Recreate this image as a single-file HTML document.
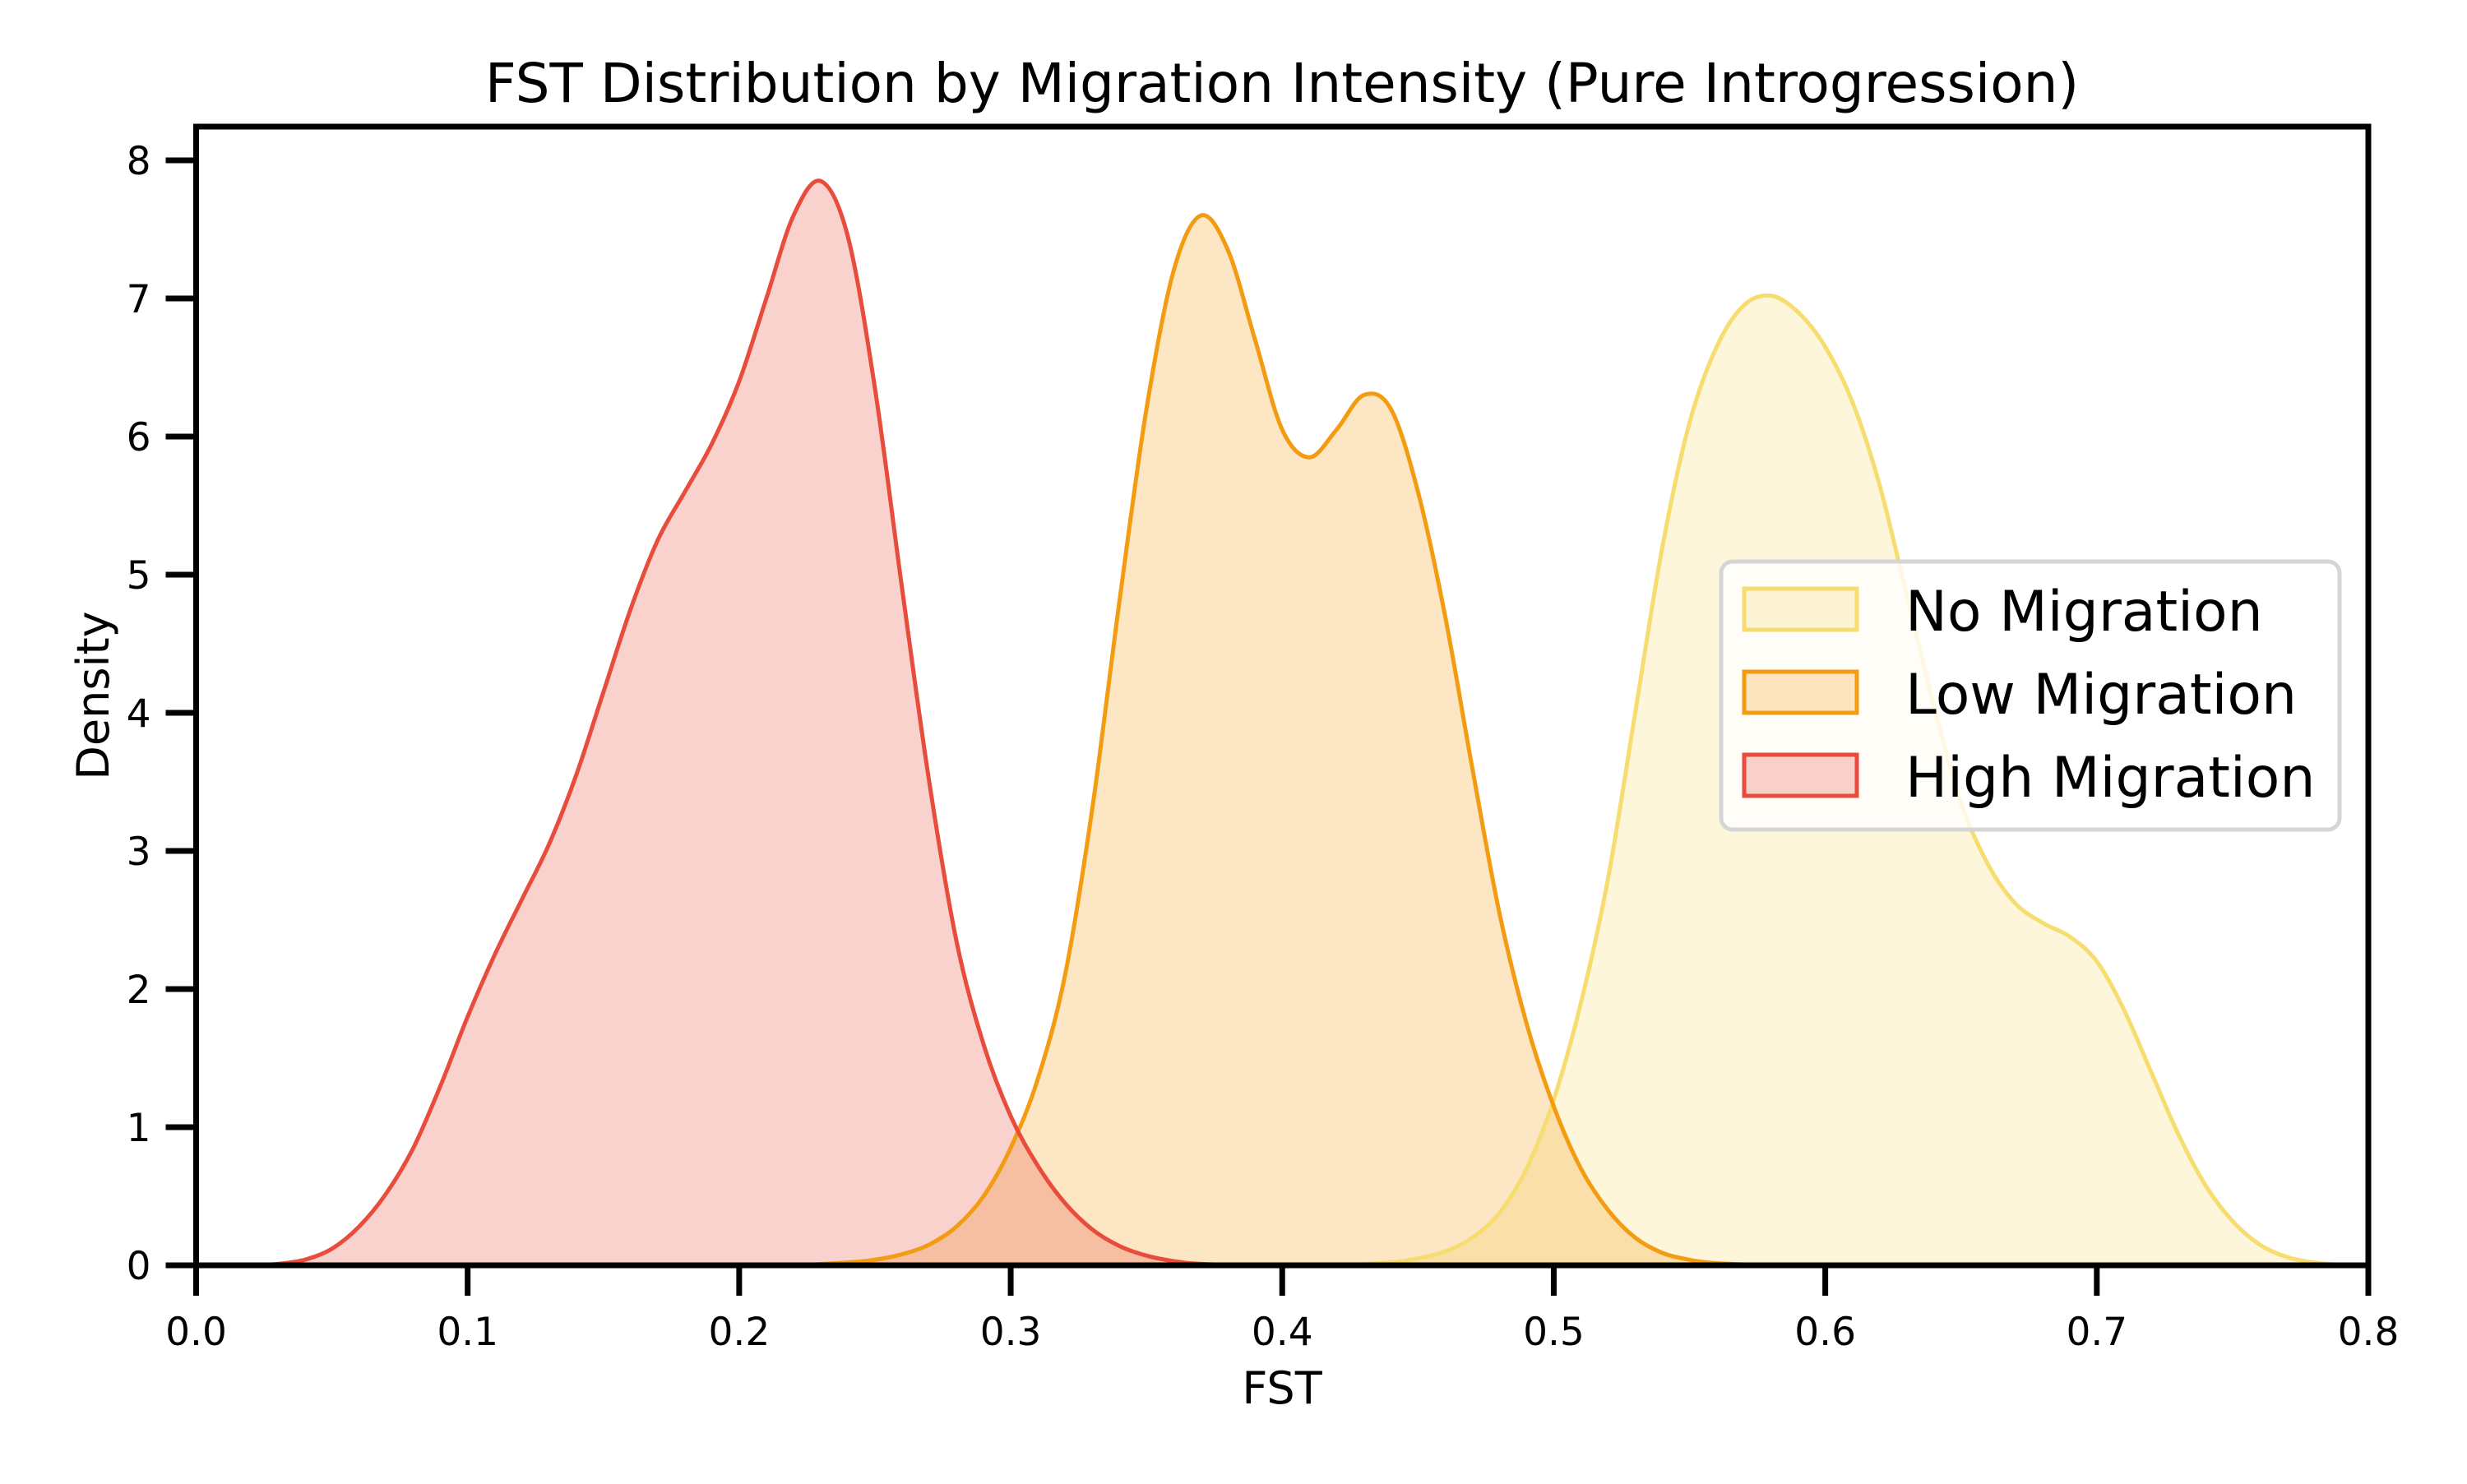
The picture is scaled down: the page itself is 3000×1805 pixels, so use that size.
<!DOCTYPE html>
<html><head><meta charset="utf-8"><style>
html,body{margin:0;padding:0;background:#fff;}
svg text{font-family:"DejaVu Sans","Liberation Sans",sans-serif;}
</style></head><body>
<svg id="chart" width="3000" height="1800" viewBox="0 0 3000 1800" xmlns="http://www.w3.org/2000/svg">
<rect width="3000" height="1800" fill="#fff"/>
<g id="plot"></g>
<g id="axes"></g>
<text x="1559" y="124" font-size="66" text-anchor="middle">FST Distribution by Migration Intensity (Pure Introgression)</text>
<text x="1559" y="1707" font-size="54" text-anchor="middle">FST</text>
<text x="132" y="846" font-size="54" text-anchor="middle" transform="rotate(-90 132 846)">Density</text>
<g>
<rect x="2093" y="683" width="752" height="326" rx="14" fill="#fff" fill-opacity="0.8" stroke="#d5d5d5" stroke-width="5"/>
<g>
<rect x="2121" y="716" width="137" height="50" fill="#f7dc6f" fill-opacity="0.25" stroke="#f7dc6f" stroke-width="5"/>
<text x="2317" y="767" font-size="68">No Migration</text></g>
<g>
<rect x="2121" y="817" width="137" height="50" fill="#f39c12" fill-opacity="0.25" stroke="#f39c12" stroke-width="5"/>
<text x="2317" y="868" font-size="68">Low Migration</text></g>
<g>
<rect x="2121" y="918" width="137" height="50" fill="#e74c3c" fill-opacity="0.25" stroke="#e74c3c" stroke-width="5"/>
<text x="2317" y="969" font-size="68">High Migration</text></g>
</g>
</svg>
<script>
const noX = [0.42,0.44,0.45,0.46,0.47,0.48,0.49,0.50,0.51,0.52,0.53,0.54,0.55,0.56,0.57,0.58,0.59,0.60,0.61,0.62,0.63,0.64,0.65,0.66,0.67,0.68,0.69,0.70,0.71,0.72,0.73,0.74,0.75,0.76,0.77,0.78,0.79];
const noY = [0,0.02,0.05,0.1,0.2,0.38,0.7,1.2,1.9,2.8,4.0,5.2,6.1,6.65,6.95,7.02,6.9,6.65,6.25,5.65,4.85,4.05,3.35,2.9,2.62,2.48,2.38,2.2,1.85,1.4,0.95,0.58,0.32,0.15,0.06,0.02,0];
const lowX = [0.22,0.24,0.25,0.26,0.27,0.28,0.29,0.30,0.31,0.32,0.33,0.34,0.35,0.36,0.37,0.38,0.39,0.40,0.41,0.42,0.43,0.44,0.45,0.46,0.47,0.48,0.49,0.50,0.51,0.52,0.53,0.54,0.55,0.56,0.58];
const lowY = [0,0.02,0.04,0.08,0.15,0.28,0.5,0.85,1.35,2.1,3.3,4.8,6.2,7.2,7.6,7.35,6.7,6.05,5.85,6.05,6.3,6.2,5.6,4.7,3.6,2.55,1.75,1.15,0.7,0.4,0.2,0.09,0.04,0.015,0];
const highX = [0.02,0.03,0.04,0.05,0.06,0.07,0.08,0.09,0.10,0.11,0.12,0.13,0.14,0.15,0.16,0.17,0.18,0.19,0.20,0.21,0.22,0.23,0.24,0.25,0.26,0.27,0.28,0.29,0.30,0.31,0.32,0.33,0.34,0.35,0.36,0.37,0.39];
const highY = [0,0.01,0.04,0.12,0.28,0.52,0.85,1.3,1.8,2.25,2.65,3.05,3.55,4.15,4.75,5.25,5.6,5.95,6.4,7.0,7.6,7.85,7.45,6.35,4.9,3.5,2.35,1.6,1.08,0.72,0.45,0.26,0.14,0.07,0.03,0.01,0];
const xTicks = [0.0,0.1,0.2,0.3,0.4,0.5,0.6,0.7,0.8];
const yTicks = [0,1,2,3,4,5,6,7,8];

const X0=238.5, X1=2880, Y0=1539, Y8=195;
const sx = v => X0 + (v-0)/(0.8)*(X1-X0);
const sy = v => Y0 - v/8*(Y0-Y8);
const NS="http://www.w3.org/2000/svg";
function smooth(xs,ys){
  const p=xs.map((x,i)=>[sx(x),sy(ys[i])]);
  let d="M"+p[0][0]+","+p[0][1];
  for(let i=0;i<p.length-1;i++){
    const a=p[i-1]||p[i], b=p[i], c=p[i+1], e=p[i+2]||c;
    let c1y=b[1]+(c[1]-a[1])/6, c2y=c[1]-(e[1]-b[1])/6;
    c1y=Math.min(c1y,Y0); c2y=Math.min(c2y,Y0);
    d+=" C"+(b[0]+(c[0]-a[0])/6)+","+c1y+" "+(c[0]-(e[0]-b[0])/6)+","+c2y+" "+c[0]+","+c[1];
  }
  return d;
}
const plot=document.getElementById('plot');
const series=[[noX,noY,'#f7dc6f','no-migration'],[lowX,lowY,'#f39c12','low-migration'],[highX,highY,'#e74c3c','high-migration']];
series.forEach(s=>{
  const d=smooth(s[0],s[1]);
  const f=document.createElementNS(NS,'path');
  f.setAttribute('d',d+" L"+sx(s[0][s[0].length-1])+","+Y0+" L"+sx(s[0][0])+","+Y0+" Z");
  f.setAttribute('fill',s[2]);f.setAttribute('fill-opacity','0.25');
  
  
  plot.appendChild(f);
});
series.forEach(s=>{
  const l=document.createElementNS(NS,'path');
  l.setAttribute('d',smooth(s[0],s[1]));
  l.setAttribute('fill','none');l.setAttribute('stroke',s[2]);l.setAttribute('stroke-width','5');
  l.setAttribute('stroke-linejoin','round');
  
  
  plot.appendChild(l);
});
const axes=document.getElementById('axes');
const fr=document.createElementNS(NS,'rect');
fr.setAttribute('x',X0);fr.setAttribute('y',154);fr.setAttribute('width',X1-X0);fr.setAttribute('height',Y0-154);
fr.setAttribute('fill','none');fr.setAttribute('stroke','#000');fr.setAttribute('stroke-width','7');


axes.appendChild(fr);
xTicks.forEach(t=>{
  const l=document.createElementNS(NS,'line');
  l.setAttribute('x1',sx(t));l.setAttribute('x2',sx(t));l.setAttribute('y1',Y0);l.setAttribute('y2',Y0+37);
  l.setAttribute('stroke','#000');l.setAttribute('stroke-width','7');
  
  
  axes.appendChild(l);
  const tx=document.createElementNS(NS,'text');
  tx.setAttribute('x',sx(t));tx.setAttribute('y',Y0+97);tx.setAttribute('font-size','47');tx.setAttribute('text-anchor','middle');
  tx.textContent=t.toFixed(1);
  
  
  axes.appendChild(tx);
});
yTicks.forEach(t=>{
  const l=document.createElementNS(NS,'line');
  l.setAttribute('x1',X0-37);l.setAttribute('x2',X0);l.setAttribute('y1',sy(t));l.setAttribute('y2',sy(t));
  l.setAttribute('stroke','#000');l.setAttribute('stroke-width','7');
  
  
  axes.appendChild(l);
  const tx=document.createElementNS(NS,'text');
  tx.setAttribute('x',X0-55);tx.setAttribute('y',sy(t)+17);tx.setAttribute('font-size','47');tx.setAttribute('text-anchor','end');
  tx.textContent=String(t);
  
  
  axes.appendChild(tx);
});
</script>
</body></html>
